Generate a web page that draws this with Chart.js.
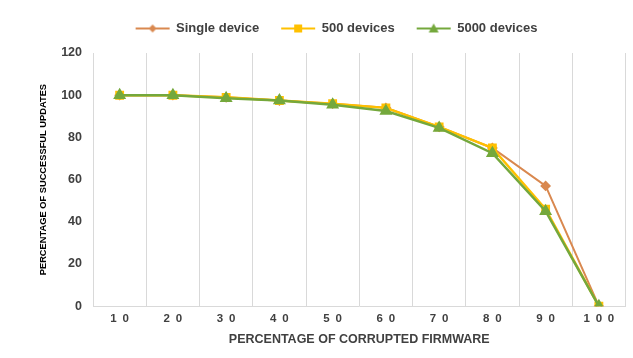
<!DOCTYPE html>
<html>
<head>
<meta charset="utf-8">
<script src="https://cdn.jsdelivr.net/npm/chart.js@4.4.0/dist/chart.umd.min.js"></script>
<style>
  html, body { margin: 0; padding: 0; background: #fff; }
  #wrap { width: 633px; height: 358px; }
</style>
</head>
<body>
<div id="wrap"><canvas id="myChart" width="633" height="358"></canvas></div>
<script>
// data
const corrupted = ['10', '20', '30', '40', '50', '60', '70', '80', '90', '100'];
const singleDevice = [100, 100, 99, 97.5, 96, 94, 85, 75, 57, 0];
const devices500 = [100, 100, 99, 97.5, 96, 94, 85, 75, 46, 0];
const devices5000 = [100, 100, 98.5, 97.5, 95.5, 92.5, 84.5, 72.5, 45, 0];
const yTicks = [0, 20, 40, 60, 80, 100, 120];

const ORANGE = '#D9884F';
const YELLOW = '#FFC000';
const GREEN = '#74A83C';

// small canvas with line + marker, used as legend symbol
// (left 8px kept empty, to space the legend items out)
const legendSymbol = (color, shape) => {
    const c = document.createElement('canvas');
    c.width = 44;
    c.height = 12;
    const g = c.getContext('2d');
    g.strokeStyle = color;
    g.lineWidth = 2;
    g.beginPath();
    g.moveTo(8, 6);
    g.lineTo(42, 6);
    g.stroke();
    g.fillStyle = color;
    g.beginPath();
    if (shape === 'diamond') {
        g.moveTo(25, 2); g.lineTo(29, 6); g.lineTo(25, 10); g.lineTo(21, 6);
    } else if (shape === 'square') {
        g.rect(21, 2, 8, 8);
    } else {
        g.moveTo(25, 1); g.lineTo(30, 10); g.lineTo(20, 10);
    }
    g.closePath();
    g.fill();
    return c;
};

const symbols = [
    legendSymbol(ORANGE, 'diamond'),
    legendSymbol(YELLOW, 'square'),
    legendSymbol(GREEN, 'triangle'),
];

// extra room under the legend
const legendMargin = {
    id: 'legendMargin',
    beforeInit(chart) {
        const fit = chart.legend.fit;
        chart.legend.fit = function () {
            fit.bind(chart.legend)();
            this.height += 8;
        };
    }
};

const ctx = document.getElementById('myChart').getContext('2d');
const myChart = new Chart(ctx, {
    type: 'line',
    plugins: [legendMargin],
    data: {
        labels: corrupted,
        datasets: [
            {
                label: 'Single device',
                data: singleDevice,
                borderColor: ORANGE,
                backgroundColor: ORANGE,
                borderWidth: 2,
                pointStyle: 'rectRot',
                pointRadius: 4,
                tension: 0,
                order: 3,
            }, {
                label: '500 devices',
                data: devices500,
                borderColor: YELLOW,
                backgroundColor: YELLOW,
                borderWidth: 2.5,
                pointStyle: 'rect',
                pointRadius: 4.5,
                tension: 0,
                order: 2,
            }, {
                label: '5000 devices',
                data: devices5000,
                borderColor: GREEN,
                backgroundColor: GREEN,
                borderWidth: 2.5,
                pointStyle: 'triangle',
                pointRadius: 5,
                tension: 0,
                order: 1,
            }
        ]
    },
    options: {
        responsive: false,
        animation: false,
        layout: {
            padding: {left: 38, right: 4, top: 6, bottom: 11}
        },
        plugins: {
            legend: {
                position: 'top',
                labels: {
                    usePointStyle: true,
                    pointStyleWidth: 40,
                    boxWidth: 40,
                    boxHeight: 12,
                    padding: 16,
                    color: '#404040',
                    font: {family: 'Liberation Sans', size: 13, weight: 'bold'},
                    generateLabels: function (chart) {
                        return chart.data.datasets.map(function (ds, i) {
                            return {
                                text: ds.label,
                                pointStyle: symbols[i],
                                fontColor: '#404040',
                                strokeStyle: ds.borderColor,
                                fillStyle: ds.backgroundColor,
                                lineWidth: 0,
                                datasetIndex: i,
                            };
                        });
                    }
                }
            },
            tooltip: {enabled: false}
        },
        scales: {
            x: {
                offset: true,
                grid: {
                    offset: true,
                    color: '#d9d9d9',
                    drawTicks: false,
                },
                border: {color: '#d9d9d9'},
                ticks: {
                    color: '#404040',
                    padding: 6,
                    font: {family: 'Liberation Sans', size: 11.5, weight: 'bold'},
                    callback: function (value) {
                        return this.getLabelForValue(value).split('').join('\u2002');
                    }
                },
                title: {
                    display: true,
                    text: 'PERCENTAGE OF CORRUPTED FIRMWARE',
                    color: '#404040',
                    padding: {top: 0, bottom: 0},
                    font: {family: 'Liberation Sans', size: 12.5, weight: 'bold'}
                }
            },
            y: {
                min: 0,
                max: 120,
                afterBuildTicks: function (axis) {
                    axis.ticks = yTicks.map(function (v) { return {value: v}; });
                },
                grid: {display: false, drawTicks: false},
                border: {display: true, color: '#d9d9d9'},
                ticks: {
                    color: '#404040',
                    padding: 11,
                    font: {family: 'Liberation Sans', size: 12.5, weight: 'bold'}
                },
                title: {
                    display: true,
                    text: 'PERCENTAGE OF SUCCESSFUL UPDATES',
                    color: '#000',
                    padding: {top: 0, bottom: 1},
                    font: {family: 'Liberation Sans', size: 9.3, weight: 'bold'}
                }
            }
        }
    },
});
</script>
</body>
</html>
